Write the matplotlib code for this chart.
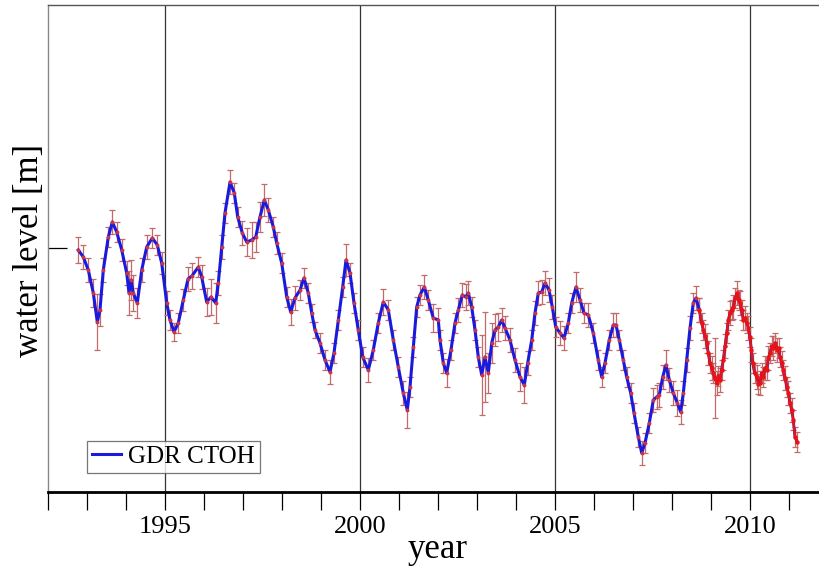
import matplotlib
matplotlib.use("Agg")
import matplotlib.pyplot as plt

plt.rcParams['font.family'] = ['Liberation Serif', 'DejaVu Serif']

# GDR CTOH series (decimal year, water level anomaly in m, error in m)
years_a = [1992.777, 1992.905, 1993.033, 1993.162, 1993.264, 1993.333, 1993.418, 1993.546,
           1993.649, 1993.762, 1993.890, 1994.018, 1994.077, 1994.128, 1994.187, 1994.290,
           1994.403, 1994.531, 1994.674, 1994.803, 1994.915, 1995.044, 1995.128, 1995.231,
           1995.341, 1995.469, 1995.590, 1995.690, 1995.854, 1995.941, 1996.069, 1996.179,
           1996.300, 1996.367, 1996.454, 1996.538, 1996.667, 1996.777, 1996.864, 1996.982,
           1997.095, 1997.223, 1997.326, 1997.436, 1997.546, 1997.649, 1997.777, 1997.864,
           1997.992, 1998.121, 1998.223, 1998.333, 1998.462, 1998.564, 1998.674, 1998.762,
           1998.846, 1998.974, 1999.103, 1999.231, 1999.333, 1999.444, 1999.556, 1999.641,
           1999.744, 1999.846, 1999.956, 2000.069, 2000.213, 2000.341, 2000.469, 2000.597,
           2000.726, 2000.854, 2000.982, 2001.110, 2001.213, 2001.282, 2001.367, 2001.454,
           2001.538, 2001.649, 2001.751, 2001.879, 2002.008, 2002.051, 2002.136, 2002.223,
           2002.333, 2002.436, 2002.521, 2002.623, 2002.710, 2002.777, 2002.864, 2002.949,
           2003.033, 2003.121, 2003.205, 2003.290, 2003.377, 2003.462, 2003.546, 2003.633,
           2003.718, 2003.846, 2003.974, 2004.103, 2004.213, 2004.300, 2004.403, 2004.487,
           2004.572, 2004.659, 2004.744, 2004.846, 2004.931, 2005.018, 2005.128, 2005.231,
           2005.341, 2005.428, 2005.538, 2005.641, 2005.744, 2005.854, 2005.982, 2006.110,
           2006.197, 2006.282, 2006.392, 2006.495, 2006.564, 2006.649, 2006.751, 2006.838,
           2006.941, 2007.026, 2007.136, 2007.223, 2007.308, 2007.418, 2007.521, 2007.608,
           2007.674, 2007.762, 2007.846, 2007.931, 2008.033, 2008.136, 2008.223, 2008.290,
           2008.377, 2008.462, 2008.546, 2008.615, 2008.700]
level_a = [-0.02, -0.09, -0.22, -0.45, -0.74, -0.62, -0.22, 0.11,
           0.26, 0.16, -0.02, -0.25, -0.45, -0.32, -0.45, -0.55,
           -0.22, 0.01, 0.10, 0.03, -0.15, -0.55, -0.72, -0.84,
           -0.75, -0.52, -0.31, -0.28, -0.19, -0.29, -0.54, -0.49,
           -0.55, -0.35, 0.01, 0.35, 0.66, 0.55, 0.31, 0.15,
           0.06, 0.08, 0.11, 0.31, 0.48, 0.38, 0.21, 0.05,
           -0.15, -0.49, -0.64, -0.50, -0.42, -0.30, -0.45, -0.65,
           -0.82, -0.95, -1.12, -1.24, -1.05, -0.72, -0.39, -0.12,
           -0.25, -0.55, -0.82, -1.09, -1.22, -1.02, -0.75, -0.54,
           -0.62, -0.92, -1.19, -1.45, -1.62, -1.39, -0.99, -0.59,
           -0.47, -0.39, -0.52, -0.70, -0.72, -0.92, -1.15, -1.25,
           -1.02, -0.75, -0.62, -0.47, -0.49, -0.45, -0.59, -0.82,
           -1.09, -1.27, -1.09, -1.25, -0.95, -0.82, -0.79, -0.72,
           -0.80, -0.92, -1.12, -1.29, -1.37, -1.15, -0.92, -0.65,
           -0.45, -0.44, -0.35, -0.42, -0.59, -0.79, -0.85, -0.90,
           -0.75, -0.55, -0.39, -0.52, -0.65, -0.67, -0.85, -1.12,
           -1.29, -1.15, -0.92, -0.77, -0.77, -0.92, -1.12, -1.29,
           -1.45, -1.65, -1.89, -2.05, -1.95, -1.75, -1.52, -1.49,
           -1.47, -1.29, -1.17, -1.32, -1.45, -1.55, -1.64, -1.45,
           -1.12, -0.80, -0.55, -0.50, -0.62]
error_a = [0.13, 0.12, 0.12, 0.14, 0.28, 0.16, 0.12, 0.10,
           0.12, 0.10, 0.11, 0.12, 0.22, 0.20, 0.18, 0.15,
           0.12, 0.12, 0.10, 0.10, 0.11, 0.12, 0.10, 0.09,
           0.10, 0.11, 0.12, 0.13, 0.10, 0.12, 0.14, 0.18,
           0.20, 0.12, 0.12, 0.10, 0.12, 0.10, 0.10, 0.12,
           0.14, 0.18, 0.15, 0.15, 0.16, 0.12, 0.10, 0.11,
           0.10, 0.10, 0.13, 0.12, 0.10, 0.10, 0.10, 0.09,
           0.08, 0.10, 0.10, 0.12, 0.10, 0.10, 0.10, 0.16,
           0.10, 0.10, 0.10, 0.10, 0.12, 0.10, 0.10, 0.13,
           0.10, 0.10, 0.10, 0.12, 0.18, 0.10, 0.10, 0.10,
           0.10, 0.12, 0.10, 0.14, 0.12, 0.10, 0.10, 0.14,
           0.10, 0.10, 0.12, 0.12, 0.13, 0.12, 0.10, 0.10,
           0.10, 0.40, 0.45, 0.20, 0.20, 0.16, 0.14, 0.12,
           0.12, 0.12, 0.12, 0.14, 0.18, 0.12, 0.10, 0.12,
           0.12, 0.12, 0.12, 0.12, 0.12, 0.10, 0.12, 0.12,
           0.10, 0.10, 0.15, 0.12, 0.10, 0.12, 0.10, 0.10,
           0.10, 0.10, 0.10, 0.12, 0.12, 0.10, 0.10, 0.10,
           0.10, 0.10, 0.10, 0.12, 0.10, 0.10, 0.12, 0.12,
           0.12, 0.12, 0.15, 0.12, 0.12, 0.13, 0.12, 0.12,
           0.12, 0.12, 0.10, 0.12, 0.12]

# second part of the series (drawn in red)
years_b = [2008.700, 2008.760, 2008.803, 2008.850, 2008.890, 2008.930, 2008.974, 2009.020,
           2009.059, 2009.100, 2009.146, 2009.190, 2009.231, 2009.270, 2009.315, 2009.360,
           2009.403, 2009.445, 2009.487, 2009.530, 2009.572, 2009.620, 2009.674, 2009.710,
           2009.744, 2009.785, 2009.828, 2009.870, 2009.915, 2009.960, 2010.000, 2010.035,
           2010.069, 2010.120, 2010.172, 2010.215, 2010.256, 2010.300, 2010.341, 2010.385,
           2010.428, 2010.470, 2010.513, 2010.555, 2010.597, 2010.650, 2010.700, 2010.735,
           2010.769, 2010.810, 2010.854, 2010.900, 2010.941, 2010.985, 2011.026, 2011.070,
           2011.110, 2011.154, 2011.213]
level_b = [-0.62, -0.75, -0.82, -0.88, -0.95, -1.05, -1.15, -1.20,
           -1.25, -1.30, -1.35, -1.28, -1.32, -1.22, -1.12, -0.98,
           -0.85, -0.72, -0.65, -0.62, -0.59, -0.50, -0.45, -0.52,
           -0.55, -0.62, -0.72, -0.70, -0.75, -0.80, -0.89, -1.02,
           -1.15, -1.25, -1.29, -1.36, -1.35, -1.25, -1.29, -1.20,
           -1.22, -1.10, -1.05, -0.98, -1.00, -0.95, -1.02, -1.00,
           -1.09, -1.15, -1.22, -1.30, -1.39, -1.45, -1.55, -1.62,
           -1.72, -1.89, -1.94]
error_b = [0.12, 0.10, 0.10, 0.12, 0.10, 0.12, 0.10, 0.12,
           0.10, 0.40, 0.12, 0.10, 0.12, 0.10, 0.10, 0.12,
           0.10, 0.10, 0.12, 0.10, 0.12, 0.10, 0.12, 0.10,
           0.12, 0.10, 0.10, 0.12, 0.10, 0.12, 0.10, 0.12,
           0.10, 0.10, 0.12, 0.10, 0.12, 0.10, 0.10, 0.12,
           0.10, 0.12, 0.10, 0.10, 0.12, 0.10, 0.12, 0.10,
           0.10, 0.12, 0.10, 0.12, 0.10, 0.12, 0.10, 0.12,
           0.10, 0.10, 0.10]

legend_label = "GDR CTOH"
major_years = [1995, 2000, 2005, 2010]
minor_years = list(range(1992, 2012))

fig = plt.figure(figsize=(8.2, 5.72), dpi=100)
ax = fig.add_axes([48 / 820, 80 / 572, 1 - 48 / 820, 487 / 572])

err_color = '#c46a6a'
ax.errorbar(years_a, level_a, yerr=error_a, fmt='none', ecolor=err_color,
            elinewidth=0.9, capsize=2.5, capthick=0.9, zorder=2)
ax.errorbar(years_b, level_b, yerr=error_b, fmt='none', ecolor=err_color,
            elinewidth=0.9, capsize=2.5, capthick=0.9, zorder=2)
ax.plot(years_a, level_a, color='#1a1adf', lw=2.2, zorder=3, label=legend_label)
ax.plot(years_a, level_a, linestyle='none', marker='o', ms=1.8, color='#cc3344', zorder=4)
ax.plot(years_b, level_b, color='#3020c0', lw=2.0, zorder=3)
ax.plot(years_b, level_b, color='#ee1111', lw=1.6, marker='o', ms=2.2, zorder=4)

ax.set_xlim(1992, 1992 + 772 / 39)
ax.set_ylim((248 - 492) / 100, (248 - 5) / 100)

for yr in major_years:
    ax.axvline(yr, color='#333333', lw=0.9, zorder=1)

ax.set_xticks(major_years)
ax.set_xticklabels([str(y) for y in major_years], fontsize=19)
ax.set_xticks(minor_years, minor=True)
ax.tick_params(axis='x', which='both', direction='out', length=13, width=0.9, pad=4)
ax.set_yticks([0])
ax.set_yticklabels([''])
ax.tick_params(axis='y', direction='in', length=14, width=0.9)

ax.spines['right'].set_visible(False)
ax.spines['top'].set_color('#555555')
ax.spines['left'].set_color('#888888')
ax.spines['top'].set_linewidth(1.0)
ax.spines['left'].set_linewidth(1.0)
ax.spines['bottom'].set_linewidth(2.0)
ax.spines['bottom'].set_color('black')

fig.text(30 / 820, 1 - 250 / 572, 'water level [m]', rotation=90, fontsize=25,
         ha='center', va='center')
fig.text(438 / 820, 1 - 549 / 572, 'year', fontsize=25, ha='center', va='center')

leg = ax.legend(loc='lower left', bbox_to_anchor=(39 / 772, 19 / 487), fontsize=18,
                frameon=True, fancybox=False, edgecolor='#555555', borderpad=0.2,
                handlelength=1.15, handletextpad=0.3, borderaxespad=0)
leg.get_frame().set_linewidth(0.9)

fig.savefig('out.png', dpi=100)
